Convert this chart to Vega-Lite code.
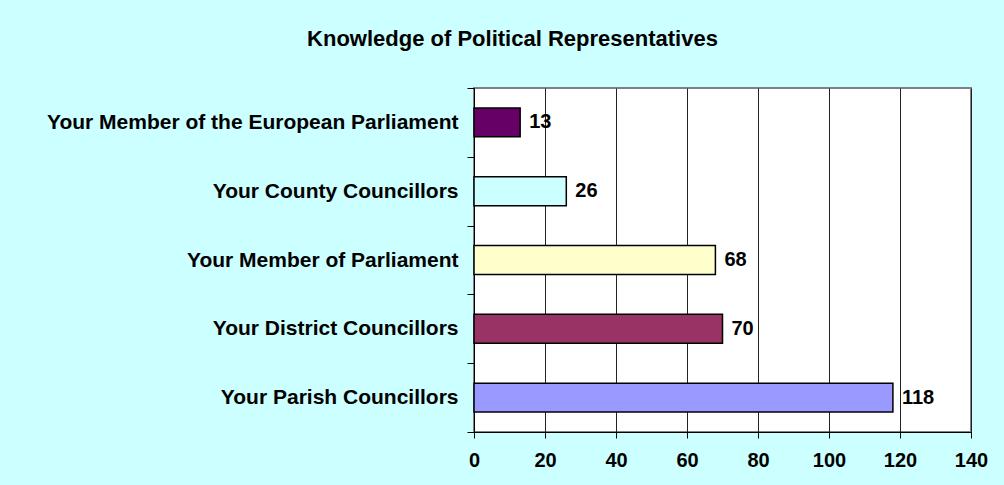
{
  "$schema": "https://vega.github.io/schema/vega-lite/v6.json",
  "autosize": {"type": "none"},
  "width": 497,
  "height": 344,
  "padding": {"left": 474, "top": 88, "right": 33, "bottom": 53},
  "background": "#CCFFFF",
  "title": {
    "text": "Knowledge of Political Representatives",
    "font": "Liberation Sans",
    "fontSize": 22,
    "fontWeight": "bold",
    "color": "#000000",
    "anchor": "middle",
    "dx": -210,
    "offset": 26
  },
  "data": {
    "values": [
      {"item": "Your Member of the European Parliament", "count": 13, "color": "#660066"},
      {"item": "Your County Councillors", "count": 26, "color": "#CCFFFF"},
      {"item": "Your Member of Parliament", "count": 68, "color": "#FFFFCC"},
      {"item": "Your District Councillors", "count": 70, "color": "#993366"},
      {"item": "Your Parish Councillors", "count": 118, "color": "#9999FF"}
    ]
  },
  "encoding": {
    "y": {
      "field": "item",
      "type": "nominal",
      "sort": null,
      "scale": {"paddingInner": 0, "paddingOuter": 0},
      "axis": {
        "title": null,
        "tickBand": "extent",
        "tickSize": 7,
        "tickColor": "#000000",
        "domainColor": "#000000",
        "labelPadding": 9,
        "labelFont": "Liberation Sans",
        "labelFontSize": 21,
        "labelFontWeight": "bold",
        "labelColor": "#000000",
        "labelLimit": 600
      }
    },
    "x": {
      "field": "count",
      "type": "quantitative",
      "scale": {"domain": [0, 140], "nice": false},
      "axis": {
        "title": null,
        "values": [0, 20, 40, 60, 80, 100, 120, 140],
        "grid": true,
        "gridColor": "#222222",
        "gridOpacity": 1,
        "tickSize": 6,
        "tickColor": "#000000",
        "domainColor": "#000000",
        "labelPadding": 12,
        "labelFont": "Liberation Sans",
        "labelFontSize": 20,
        "labelFontWeight": "bold",
        "labelColor": "#000000",
        "labelFlush": false
      }
    }
  },
  "layer": [
    {
      "mark": {"type": "bar", "stroke": "#000000", "strokeWidth": 1.5, "height": {"band": 0.42}},
      "encoding": {
        "color": {"field": "color", "type": "nominal", "scale": null, "legend": null}
      }
    },
    {
      "mark": {
        "type": "text",
        "align": "left",
        "baseline": "middle",
        "dx": 9,
        "font": "Liberation Sans",
        "fontSize": 20,
        "fontWeight": "bold",
        "color": "#000000"
      },
      "encoding": {
        "text": {"field": "count", "type": "quantitative"}
      }
    }
  ],
  "config": {
    "view": {"fill": "#FFFFFF", "stroke": "#808080", "strokeWidth": 2}
  }
}
